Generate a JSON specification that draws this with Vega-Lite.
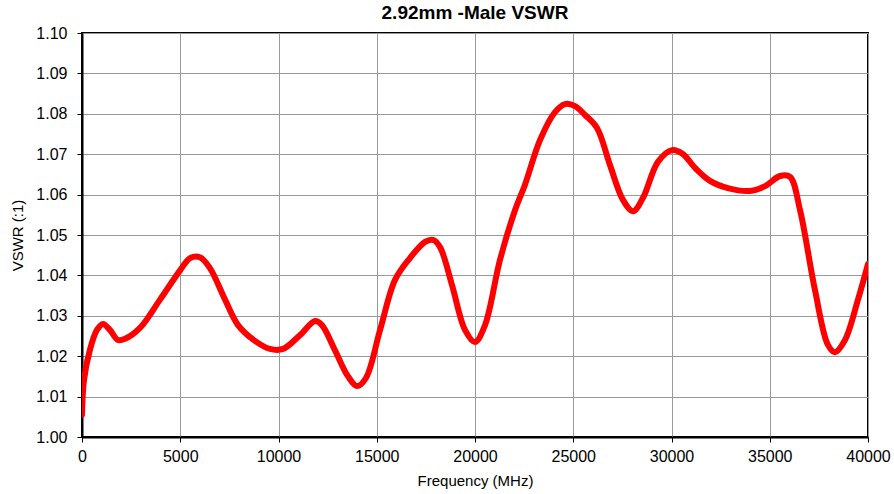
{
  "$schema": "https://vega.github.io/schema/vega-lite/v6.json",
  "width": 786,
  "height": 404,
  "autosize": {"type": "none"},
  "padding": {"left": 82, "top": 33, "right": 26, "bottom": 57},
  "background": "white",
  "title": {"text": "2.92mm -Male VSWR", "font": "Liberation Sans", "fontSize": 19, "fontWeight": "bold", "color": "black", "offset": 2, "anchor": "middle"},
  "config": {
    "view": {"stroke": "black", "strokeWidth": 2},
    "axis": {
      "labelFont": "Liberation Sans", "labelFontSize": 16, "labelColor": "black",
      "titleFont": "Liberation Sans", "titleFontSize": 15, "titleFontWeight": "normal", "titleColor": "black",
      "gridColor": "#999999", "gridWidth": 1, "gridOpacity": 1,
      "domainColor": "black", "domainWidth": 2,
      "tickColor": "black", "tickSize": 5, "tickWidth": 1
    }
  },
  "data": {"values": [
    {"f": 0, "v": 1.0055},
    {"f": 100, "v": 1.014},
    {"f": 400, "v": 1.0215},
    {"f": 760, "v": 1.0265},
    {"f": 1070, "v": 1.028},
    {"f": 1420, "v": 1.0265},
    {"f": 1830, "v": 1.024},
    {"f": 2190, "v": 1.0243},
    {"f": 2950, "v": 1.027},
    {"f": 3970, "v": 1.034},
    {"f": 5000, "v": 1.0413},
    {"f": 5500, "v": 1.0443},
    {"f": 6000, "v": 1.0445},
    {"f": 6510, "v": 1.0418},
    {"f": 7280, "v": 1.034},
    {"f": 7940, "v": 1.0277},
    {"f": 8800, "v": 1.0238},
    {"f": 9570, "v": 1.0218},
    {"f": 10230, "v": 1.0218},
    {"f": 11090, "v": 1.0252},
    {"f": 11860, "v": 1.0287},
    {"f": 12210, "v": 1.0277},
    {"f": 12870, "v": 1.0215},
    {"f": 13540, "v": 1.015},
    {"f": 14000, "v": 1.0126},
    {"f": 14450, "v": 1.0146},
    {"f": 15170, "v": 1.0265},
    {"f": 15930, "v": 1.0389},
    {"f": 16690, "v": 1.0443},
    {"f": 17460, "v": 1.0483},
    {"f": 17860, "v": 1.0488},
    {"f": 18220, "v": 1.047},
    {"f": 18830, "v": 1.0376},
    {"f": 19490, "v": 1.0265},
    {"f": 20000, "v": 1.0235},
    {"f": 20510, "v": 1.0277},
    {"f": 21270, "v": 1.0438},
    {"f": 22040, "v": 1.0562},
    {"f": 22540, "v": 1.0624},
    {"f": 23310, "v": 1.0735},
    {"f": 24070, "v": 1.0804},
    {"f": 24580, "v": 1.0824},
    {"f": 25090, "v": 1.0819},
    {"f": 25600, "v": 1.0797},
    {"f": 26210, "v": 1.0765},
    {"f": 26870, "v": 1.0673},
    {"f": 27530, "v": 1.0587},
    {"f": 28040, "v": 1.0559},
    {"f": 28550, "v": 1.0592},
    {"f": 29310, "v": 1.0681},
    {"f": 30030, "v": 1.071},
    {"f": 30590, "v": 1.07},
    {"f": 31200, "v": 1.0666},
    {"f": 31960, "v": 1.0634},
    {"f": 32870, "v": 1.0616},
    {"f": 33990, "v": 1.0609},
    {"f": 34760, "v": 1.0621},
    {"f": 35520, "v": 1.0646},
    {"f": 36030, "v": 1.0644},
    {"f": 36540, "v": 1.0562},
    {"f": 37300, "v": 1.0364},
    {"f": 37960, "v": 1.0228},
    {"f": 38320, "v": 1.021},
    {"f": 38830, "v": 1.024},
    {"f": 39490, "v": 1.034},
    {"f": 40000, "v": 1.0428}
  ]},
  "mark": {"type": "line", "color": "#FF0000", "strokeWidth": 6, "interpolate": "catmull-rom", "strokeCap": "round", "clip": true},
  "encoding": {
    "x": {"field": "f", "type": "quantitative", "title": "Frequency (MHz)",
      "scale": {"domain": [0, 40000], "nice": false},
      "axis": {"values": [0, 5000, 10000, 15000, 20000, 25000, 30000, 35000, 40000], "format": "d", "labelPadding": 6, "titlePadding": 9, "labelFlush": false}},
    "y": {"field": "v", "type": "quantitative", "title": "VSWR (:1)",
      "scale": {"domain": [1.0, 1.1], "nice": false, "zero": false},
      "axis": {"values": [1.0, 1.01, 1.02, 1.03, 1.04, 1.05, 1.06, 1.07, 1.08, 1.09, 1.1], "format": ".2f", "labelPadding": 10, "titlePadding": 10, "labelFlush": false}}
  }
}
